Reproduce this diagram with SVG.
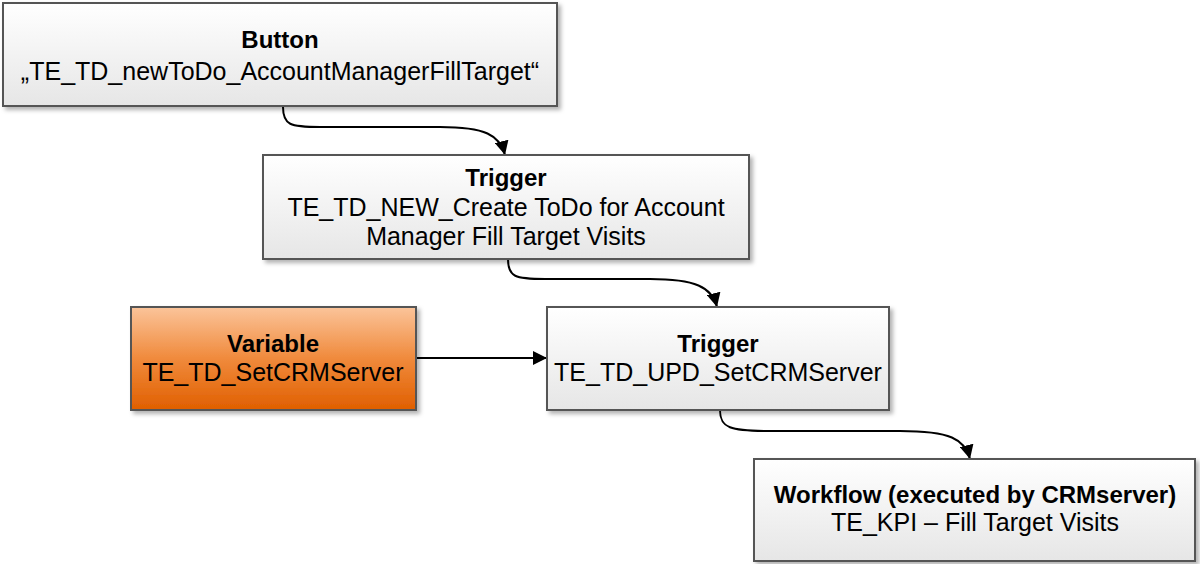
<svg xmlns="http://www.w3.org/2000/svg" width="1200" height="564" viewBox="0 0 1200 564">
<defs>
<linearGradient id="g" x1="0" y1="0" x2="0" y2="1"><stop offset="0" stop-color="#ffffff"/><stop offset="1" stop-color="#e6e6e6"/></linearGradient>
<linearGradient id="o" x1="0" y1="0" x2="0" y2="1"><stop offset="0" stop-color="#fbc49a"/><stop offset="0.5" stop-color="#f08a3c"/><stop offset="1" stop-color="#e05f00"/></linearGradient>
<filter id="sh" x="-5%" y="-5%" width="112%" height="120%"><feDropShadow dx="3" dy="3" stdDeviation="2" flood-color="#000" flood-opacity="0.3"/></filter>
<marker id="arr" viewBox="0 0 14 14" refX="14" refY="7" markerWidth="14" markerHeight="14" markerUnits="userSpaceOnUse" orient="auto"><path d="M0,0 L14,7 L0,14 z" fill="#000"/></marker>
</defs>
<style>
.box{fill:url(#g);stroke:#555;stroke-width:2;filter:url(#sh)}
.obox{fill:url(#o);stroke:#555;stroke-width:2;filter:url(#sh)}
text{font-family:"Liberation Sans",Arial,sans-serif;font-size:25px;fill:#000;text-anchor:middle}
.t{font-weight:bold;font-size:24px}
.c{fill:none;stroke:#000;stroke-width:2;marker-end:url(#arr)}
</style>
<g id="connectors">
<path class="c" d="M283,107 C283,125 290,127 320,127 L440,127 C485,127 500,135 505,155"/>
<path class="c" d="M508,259 C508,277 515,279 545,279 L650,279 C695,279 712,287 717,307"/>
<path class="c" d="M720,410 C720,428 730,431 770,431 L900,431 C950,431 965,439 970,459"/>
<path class="c" d="M416,358 L547,358"/>
</g>
<g id="button"><rect class="box" x="3" y="3" width="554" height="103"/><text class="t" x="280" y="48">Button</text><text x="280" y="80">„TE_TD_newToDo_AccountManagerFillTarget“</text></g>
<g id="trigger1"><rect class="box" x="263" y="155" width="486" height="104"/><text class="t" x="506" y="186">Trigger</text><text x="506" y="216">TE_TD_NEW_Create ToDo for Account</text><text x="506" y="245">Manager Fill  Target Visits</text></g>
<g id="variable"><rect class="obox" x="131" y="307" width="285" height="103"/><text class="t" x="273" y="352">Variable</text><text x="273" y="381">TE_TD_SetCRMServer</text></g>
<g id="trigger2"><rect class="box" x="547" y="307" width="342" height="103"/><text class="t" x="718" y="352">Trigger</text><text x="718" y="381">TE_TD_UPD_SetCRMServer</text></g>
<g id="workflow"><rect class="box" x="754" y="459" width="441" height="102"/><text class="t" x="975" y="503">Workflow (executed by CRMserver)</text><text x="975" y="531">TE_KPI – Fill Target Visits</text></g>
</svg>
